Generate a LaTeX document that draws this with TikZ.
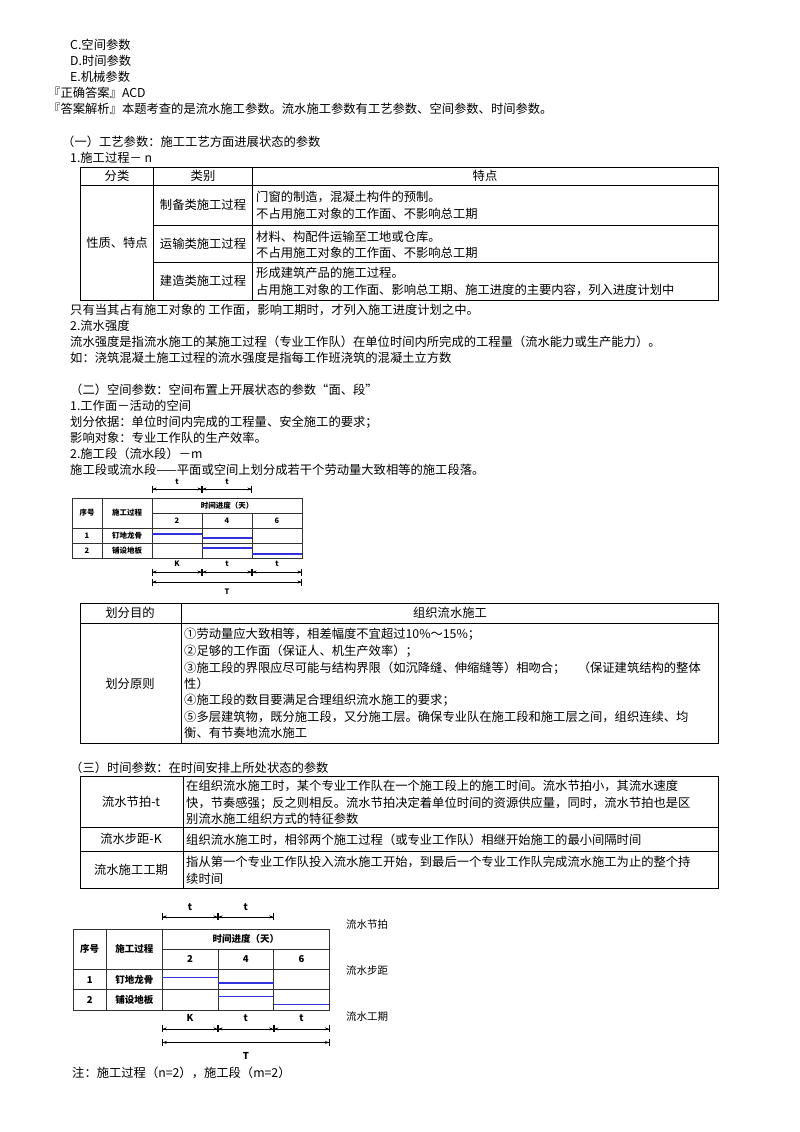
\documentclass[tikz,border=0pt]{standalone}
\usepackage{fontspec}
\setmainfont{Noto Sans CJK SC}
\usetikzlibrary{arrows.meta}
\definecolor{lineblue}{RGB}{50,50,220}
\newcounter{tn}
\newcommand\tx[3]{\stepcounter{tn}\node[txt] (n\arabic{tn}) at (#1,#2) {#3};}
\newcommand\tc[3]{\stepcounter{tn}\node[ctxt] (n\arabic{tn}) at (#1,#2) {#3};}
\tikzset{
 txt/.style={anchor=west,inner sep=0pt,font=\fontsize{12.3}{14}\selectfont},
 ctxt/.style={inner sep=0pt,font=\fontsize{12.3}{14}\selectfont},
 tbl/.style={line width=0.9pt},
 dim/.style={line width=0.6pt,{Bar[width=7pt]Stealth[length=4pt,width=3pt]}-{Stealth[length=4pt,width=3pt]Bar[width=7pt]}},
 bl/.style={lineblue,line width=1.3pt},
 dtx/.style={inner sep=0pt,font=\dfont},
}
\newcommand\dfont{\fontsize{8}{9}\selectfont\bfseries}
\newcommand\diag[5]{%
\renewcommand\dfont{\fontsize{#5}{#5}\selectfont\bfseries}
\begin{scope}[shift={(#1,#2)},xscale=#3,yscale=#4]
 \draw[line width=0.8pt,black!80] (0,0) rectangle (230,60);
 \draw[line width=0.6pt,black!80] (80,15)--(230,15) (0,30)--(230,30) (0,45)--(230,45)
   (30,0)--(30,60) (80,0)--(80,60) (130,15)--(130,60) (180,15)--(180,60);
 \node[dtx] (h1) at (15,15) {序号};
 \node[dtx] (h2) at (55,15) {施工过程};
 \node[dtx] (h3) at (155,7.5) {时间进度（天）};
 \node[dtx] (c2) at (105,22.5) {2};
 \node[dtx] (c4) at (155,22.5) {4};
 \node[dtx] (c6) at (205,22.5) {6};
 \node[dtx] (r1) at (15,37.5) {1};
 \node[dtx] (r1b) at (55,37.5) {钉地龙骨};
 \node[dtx] (r2) at (15,52.5) {2};
 \node[dtx] (r2b) at (55,52.5) {铺设地板};
 \draw[bl] (80,36)--(130,36) (130,40)--(180,40) (130,50)--(180,50) (180,56)--(230,56);
 \coordinate (a0) at (80,-9); \coordinate (a1) at (130,-9); \coordinate (a2) at (180,-9);
 \draw[dim] (a0)--(a1); \draw[dim] (a1)--(a2);
 \node[dtx] (tt1) at (105,-16) {t}; \node[dtx] (tt2) at (155,-16) {t};
 \coordinate (b0) at (80,74); \coordinate (b1) at (130,74); \coordinate (b2) at (180,74); \coordinate (b3) at (230,74);
 \draw[dim] (b0)--(b1); \draw[dim] (b1)--(b2); \draw[dim] (b2)--(b3);
 \node[dtx] (kk) at (105,66) {K}; \node[dtx] (bt1) at (155,66) {t}; \node[dtx] (bt2) at (205,66) {t};
 \coordinate (d0) at (80,84); \coordinate (d1) at (230,84);
 \draw[dim] (d0)--(d1);
 \node[dtx] (TT) at (155,94) {T};
\end{scope}}
\begin{document}
\begin{tikzpicture}[x=1pt,y=-1pt]
\fill[white] (0,0) rectangle (800,1132);
\useasboundingbox (0,0) rectangle (800,1132);
\tx{70}{45}{C.空间参数}
\tx{70}{61}{D.时间参数}
\tx{70}{77}{E.机械参数}
\tx{48}{93}{『正确答案』ACD}
\tx{48}{109}{『答案解析』本题考查的是流水施工参数。流水施工参数有工艺参数、空间参数、时间参数。}
\tx{62}{142}{（一）工艺参数：施工工艺方面进展状态的参数}
\tx{70}{158}{1.施工过程－ n}
% table 1
\draw[tbl] (80,167) rectangle (718,300);
\draw[tbl] (80,185)--(718,185) (153,167)--(153,300) (252,167)--(252,300)
  (153,225)--(718,225) (153,262)--(718,262);
\tc{117}{176}{分类}\tc{203}{176}{类别}\tc{485}{176}{特点}
\tc{117}{243}{性质、特点}
\tc{203}{205}{制备类施工过程}\tc{203}{244}{运输类施工过程}\tc{203}{281}{建造类施工过程}
\tx{256}{197}{门窗的制造，混凝土构件的预制。}
\tx{256}{214}{不占用施工对象的工作面、不影响总工期}
\tx{256}{237}{材料、构配件运输至工地或仓库。}
\tx{256}{253}{不占用施工对象的工作面、不影响总工期}
\tx{256}{273}{形成建筑产品的施工过程。}
\tx{256}{290}{占用施工对象的工作面、影响总工期、施工进度的主要内容，列入进度计划中}
\tx{70}{310}{只有当其占有施工对象的 工作面，影响工期时，才列入施工进度计划之中。}
\tx{70}{326}{2.流水强度}
\tx{70}{342}{流水强度是指流水施工的某施工过程（专业工作队）在单位时间内所完成的工程量（流水能力或生产能力）。}
\tx{70}{358}{如：浇筑混凝土施工过程的流水强度是指每工作班浇筑的混凝土立方数}
\tx{70}{390}{（二）空间参数：空间布置上开展状态的参数“面、段”}
\tx{70}{406}{1.工作面－活动的空间}
\tx{70}{422}{划分依据：单位时间内完成的工程量、安全施工的要求；}
\tx{70}{438}{影响对象：专业工作队的生产效率。}
\tx{70}{454}{2.施工段（流水段）－m}
\tx{70}{470}{施工段或流水段——平面或空间上划分成若干个劳动量大致相等的施工段落。}
\diag{72}{498}{1}{1}{7.5}
% table 2
\draw[tbl] (80,603) rectangle (718,743);
\draw[tbl] (80,623)--(718,623) (181,603)--(181,743);
\tc{130}{613}{划分目的}\tc{450}{613}{组织流水施工}
\tc{130}{684}{划分原则}
\tx{184}{634}{①劳动量应大致相等，相差幅度不宜超过10\%～15\%；}
\tx{184}{651}{②足够的工作面（保证人、机生产效率）；}
\tx{184}{668}{③施工段的界限应尽可能与结构界限（如沉降缝、伸缩缝等）相吻合；　（保证建筑结构的整体}
\tx{184}{684}{性）}
\tx{184}{700}{④施工段的数目要满足合理组织流水施工的要求；}
\tx{184}{717}{⑤多层建筑物，既分施工段，又分施工层。确保专业队在施工段和施工层之间，组织连续、均}
\tx{184}{733}{衡、有节奏地流水施工}
\tx{70}{768}{（三）时间参数：在时间安排上所处状态的参数}
% table 3
\draw[tbl] (80,776) rectangle (718,888);
\draw[tbl] (80,827)--(718,827) (80,851)--(718,851) (183,776)--(183,888);
\tc{131}{802}{流水节拍-t}\tc{131}{839}{流水步距-K}\tc{131}{870}{流水施工工期}
\tx{186}{786}{在组织流水施工时，某个专业工作队在一个施工段上的施工时间。流水节拍小，其流水速度}
\tx{186}{803}{快，节奏感强；反之则相反。流水节拍决定着单位时间的资源供应量，同时，流水节拍也是区}
\tx{186}{819}{别流水施工组织方式的特征参数}
\tx{186}{840}{组织流水施工时，相邻两个施工过程（或专业工作队）相继开始施工的最小间隔时间}
\tx{186}{862}{指从第一个专业工作队投入流水施工开始，到最后一个专业工作队完成流水施工为止的整个持}
\tx{186}{879}{续时间}
\diag{73}{929}{1.115}{1.35}{9.5}
\node[txt,font=\fontsize{10.5}{12}\selectfont] (l1) at (346,925) {流水节拍};
\node[txt,font=\fontsize{10.5}{12}\selectfont] (l2) at (346,971) {流水步距};
\node[txt,font=\fontsize{10.5}{12}\selectfont] (l3) at (346,1017) {流水工期};
\tx{72}{1073}{注：施工过程（n=2），施工段（m=2）}
\end{tikzpicture}
\end{document}
